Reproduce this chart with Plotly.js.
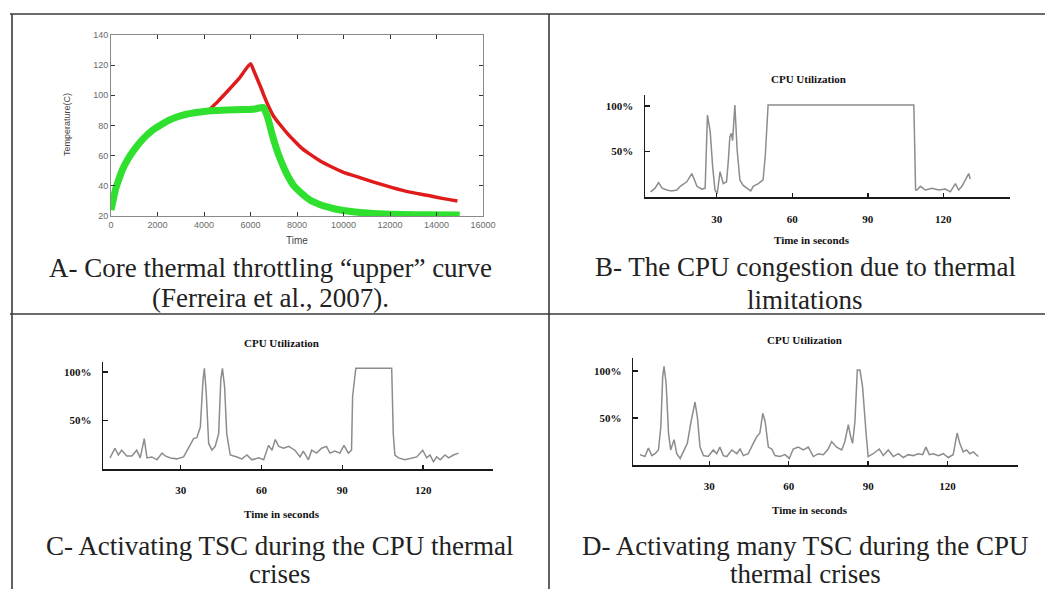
<!DOCTYPE html>
<html>
<head>
<meta charset="utf-8">
<script src="https://cdn.plot.ly/plotly-3.0.1.min.js"></script>
<style>html,body{margin:0;padding:0;background:#fff;}#chart{width:1045px;height:589px;}</style>
</head>
<body>
<div id="chart"></div>
<script>
// ---------- Panel A: core temperature ----------
const redTime = [4200,4600,5000,5500,6000,6150,6300,6450,6600,6800,7000,7300,7600,7850,8200,8600,9000,9500,10000,10700,11300,12100,12800,13600,14300,14900];
const redTemp = [90,96,102.5,111,121,116,110.5,105,99,92,86,80,74.5,70.4,65,60.5,56.5,52.5,49,45.5,42.5,38.8,36,33.7,31.5,30];
const greenTime = [0,100,200,330,500,700,1000,1400,1800,2100,2500,2800,3200,3600,4000,4300,5000,5700,6200,6550,6650,6770,6950,7130,7300,7480,7660,7840,8200,8560,9000,9270,9600,10000,10700,11500,12500,13500,15000];
const greenTemp = [24,31,38,44,51,57,64,71.5,77,80,83.5,85.5,87.3,88.5,89.3,89.8,90.3,90.6,91,92,89,83.7,73,64,57,50.5,45,40.5,35,30.6,27.5,26.2,24.8,23.6,22.3,21.5,21,20.8,20.6];
const tempXTicks = [0,2000,4000,6000,8000,10000,12000,14000,16000];
const tempYTicks = [20,40,60,80,100,120,140];

// ---------- Panels B, C, D: CPU utilization (%) vs time (s) ----------
const cpuBTime = [3.7,5.5,6.9,8.3,10.2,12,14.2,15.5,18.1,20.1,21.3,22.1,24.1,25.4,26.3,27.4,28.4,29.3,30.2,31.3,32.6,33.9,34.6,35.2,35.8,36.3,37.2,38.1,39.2,40.5,42.5,43.5,44.5,46.5,48.4,49.3,50.4,108.3,109,109.6,110.9,112.9,115.5,118.2,120.8,122.8,124.8,126.1,127.4,128.7,130.1,130.7];
const cpuBUtil = [6,10,16,10,8,7,8,12,17,26,18,12,9,10,90,72,33,8,4,28,15,17,40,66,70,62,101,52,19,13,9,7,12,15,19,46,101,101,8,8,12,8,10,8,9,6,15,8,12,19,26,20];

const cpuCTime = [3.8,5.6,6.9,8.1,10,11.9,13.7,15,16.5,17.5,19.3,21.2,23.1,24.3,26.2,28.6,31.1,32.9,34.8,36,37.3,38.3,38.8,39.5,40.4,41.6,42.8,44.1,44.9,45.5,46.3,47.1,48.4,50.9,52.7,54.6,56.4,58.9,60.8,62.6,63.9,65.1,66.4,68.2,70.1,72.4,74.3,75.5,77.4,78.6,80.4,82.3,84.1,85.4,87.2,89.1,90.6,92.2,93.4,93.8,95,108.3,108.9,109.5,110.8,113.2,115.7,117.6,119.8,121.3,122.5,123.8,125,126.3,128.1,129.4,131.2,133.1];
const cpuCUtil = [11,21,14,19,13,13,19,11,31,11,12,9,16,13,11,10,12,21,31,32,43,92,104,78,26,19,23,36,92,104,85,36,14,12,10,14,9,11,9,24,19,30,23,21,23,19,12,18,9,19,16,21,23,16,18,16,24,16,19,75,104,104,35,14,11,9,11,12,19,11,14,7,12,9,14,11,14,16];

const cpuDTime = [3.8,5.7,7,8.3,9.5,10.8,11.7,12.4,12.9,13.7,14.6,15.4,16.7,17.7,19,20.5,21.7,23.1,24.6,25.5,26.5,27.8,29.6,31.5,32.8,34,35.3,36.6,38.5,40.4,41.6,42.9,44.7,46.6,47.9,49.1,50.2,51.1,52.3,53.6,54.8,56.7,58.6,60.2,61.7,63.6,65.5,67.4,69.3,71.2,73.1,74.9,76.2,78.1,80,81.2,82.5,83.4,84.1,85,85.9,86.9,87.9,89.2,90,91.9,94.2,95.7,97.6,99.5,101.4,103.3,105.1,107,108.9,110.6,111.8,113.1,114.6,116.5,118.4,120.2,122.1,123.6,124.6,125.9,127.2,128.4,129.7,131.6];
const cpuDUtil = [11,9,18,10,12,16,41,94,105,87,34,16,27,12,7,16,23,46,67,51,19,10,9,16,12,19,10,9,16,12,17,10,12,23,30,34,55,46,19,17,10,9,11,7,17,19,16,19,9,12,11,17,25,19,16,25,43,30,23,46,101,101,83,34,9,12,17,10,16,9,12,8,11,10,12,11,19,11,12,10,12,8,11,34,23,14,16,12,14,9];

const cpuXTicks = [30,60,90,120];
const cpuYTicks = [50,100];
const cpuYTickText = ['50%','100%'];

const cpuTitle = 'CPU Utilization';
const cpuXTitle = 'Time in seconds';
const captions = [
  ['A- Core thermal throttling \u201cupper\u201d curve','(Ferreira et al., 2007).'],
  ['B- The CPU congestion due to thermal','limitations'],
  ['C- Activating TSC during the CPU thermal','crises'],
  ['D- Activating many TSC during the CPU','thermal crises']
];

// ---------- helpers ----------
const W = 1045, H = 589;
const px = v => v / W;
const py = v => 1 - v / H;

const traces = [
  {x: redTime, y: redTemp, xaxis:'x', yaxis:'y', mode:'lines', line:{color:'#e01b1b', width:3.5, shape:'spline', smoothing:0.5}, hoverinfo:'skip'},
  {x: greenTime, y: greenTemp, xaxis:'x', yaxis:'y', mode:'lines', line:{color:'#2fe02f', width:7, shape:'spline', smoothing:0.6}, hoverinfo:'skip'},
  {x: cpuBTime, y: cpuBUtil, xaxis:'x2', yaxis:'y2', mode:'lines', line:{color:'#8c8c8c', width:1.5}, hoverinfo:'skip'},
  {x: cpuCTime, y: cpuCUtil, xaxis:'x3', yaxis:'y3', mode:'lines', line:{color:'#8c8c8c', width:1.5}, hoverinfo:'skip'},
  {x: cpuDTime, y: cpuDUtil, xaxis:'x4', yaxis:'y4', mode:'lines', line:{color:'#8c8c8c', width:1.5}, hoverinfo:'skip'}
];

const tempAxisCommon = {
  showline:true, mirror:'allticks', linecolor:'#8a8a8a', linewidth:1,
  ticks:'inside', ticklen:4, tickwidth:1, tickcolor:'#333',
  showgrid:false, zeroline:false, fixedrange:true,
  tickfont:{family:'Liberation Sans, Arial, sans-serif', size:9, color:'#6a6a6a'}
};
const serifBold = {family:'Liberation Serif, Times New Roman, serif', size:11, color:'#111', weight:700};
const cpuX = (dom, rng) => ({
  domain: dom, range: rng, showline:true, linecolor:'#1a1a1a', linewidth:2,
  ticks:'inside', ticklen:4, tickwidth:1.5, tickcolor:'#1a1a1a',
  tickvals: cpuXTicks, ticktext: cpuXTicks.map(String),
  ticklabelstandoff: 10,
  showgrid:false, zeroline:false, fixedrange:true, tickfont: serifBold
});
const cpuY = (dom, rng) => ({
  domain: dom, range: rng, showline:true, linecolor:'#1a1a1a', linewidth:1.5,
  ticks:'inside', ticklen:5, tickwidth:1.5, tickcolor:'#1a1a1a',
  tickvals: cpuYTicks, ticktext: cpuYTickText,
  ticklabelstandoff: 8,
  showgrid:false, zeroline:false, fixedrange:true, tickfont: serifBold
});

const layout = {
  width: W, height: H, margin:{l:0,r:0,t:0,b:0},
  paper_bgcolor:'#fff', plot_bgcolor:'rgba(0,0,0,0)', showlegend:false,
  xaxis: Object.assign({}, tempAxisCommon, {domain:[px(111),px(483)], range:[0,16000], tickvals:tempXTicks, ticktext:tempXTicks.map(String), anchor:'y'}),
  yaxis: Object.assign({}, tempAxisCommon, {domain:[py(216),py(35)], range:[20,140], tickvals:tempYTicks, ticktext:tempYTicks.map(String), anchor:'x'}),
  xaxis2: Object.assign(cpuX([px(645),px(1010)],[1.5,146.5]), {anchor:'y2'}),
  yaxis2: Object.assign(cpuY([py(197.3),py(95)],[0,112]), {anchor:'x2'}),
  xaxis3: Object.assign(cpuX([px(103.3),px(493.3)],[1.3,146]), {anchor:'y3'}),
  yaxis3: Object.assign(cpuY([py(468.5),py(361.7)],[0,110.8]), {anchor:'x3'}),
  xaxis4: Object.assign(cpuX([px(633.3),px(1018.3)],[1.3,146.7]), {anchor:'y4'}),
  yaxis4: Object.assign(cpuY([py(465),py(358.3)],[0,113.5]), {anchor:'x4'}),
  shapes: [
    {type:'line', xref:'paper', yref:'paper', x0:px(10), x1:1, y0:py(14), y1:py(14), line:{color:'#3a3a3a', width:1.6}},
    {type:'line', xref:'paper', yref:'paper', x0:px(10), x1:1, y0:py(314), y1:py(314), line:{color:'#3a3a3a', width:1.6}},
    {type:'line', xref:'paper', yref:'paper', x0:px(12), x1:px(12), y0:py(14), y1:0, line:{color:'#3a3a3a', width:1.6}},
    {type:'line', xref:'paper', yref:'paper', x0:px(549), x1:px(549), y0:py(14), y1:0, line:{color:'#3a3a3a', width:1.6}}
  ],
  annotations: []
};

const ann = layout.annotations;
const addText = (text, x, y, font, extra) => ann.push(Object.assign({text, x:px(x), y:py(y), xref:'paper', yref:'paper', showarrow:false, xanchor:'center', yanchor:'middle', font}, extra||{}));
const sans = s => ({family:'Liberation Sans, Arial, sans-serif', size:s, color:'#444'});
const capFont = {family:'Liberation Serif, Times New Roman, serif', size:27, color:'#222'};

// Panel A labels
addText('Time', 297, 240, sans(10));
addText('Temperature(C)', 67, 125, sans(9), {textangle:-90});
// CPU titles and x titles
addText(cpuTitle, 808, 79, serifBold);
addText(cpuXTitle, 812, 240, serifBold);
addText(cpuTitle, 281, 343, serifBold);
addText(cpuXTitle, 282, 514, serifBold);
addText(cpuTitle, 804, 340, serifBold);
addText(cpuXTitle, 810, 510, serifBold);
// captions
const capPos = [[270,268,298],[805,267,300],[279,546,574],[805,546,574]];
captions.forEach((c,i) => {
  addText(c[0], capPos[i][0], capPos[i][1], capFont);
  addText(c[1], capPos[i][0], capPos[i][2], capFont);
});

Plotly.newPlot('chart', traces, layout, {staticPlot:true, displayModeBar:false});
</script>
</body>
</html>
